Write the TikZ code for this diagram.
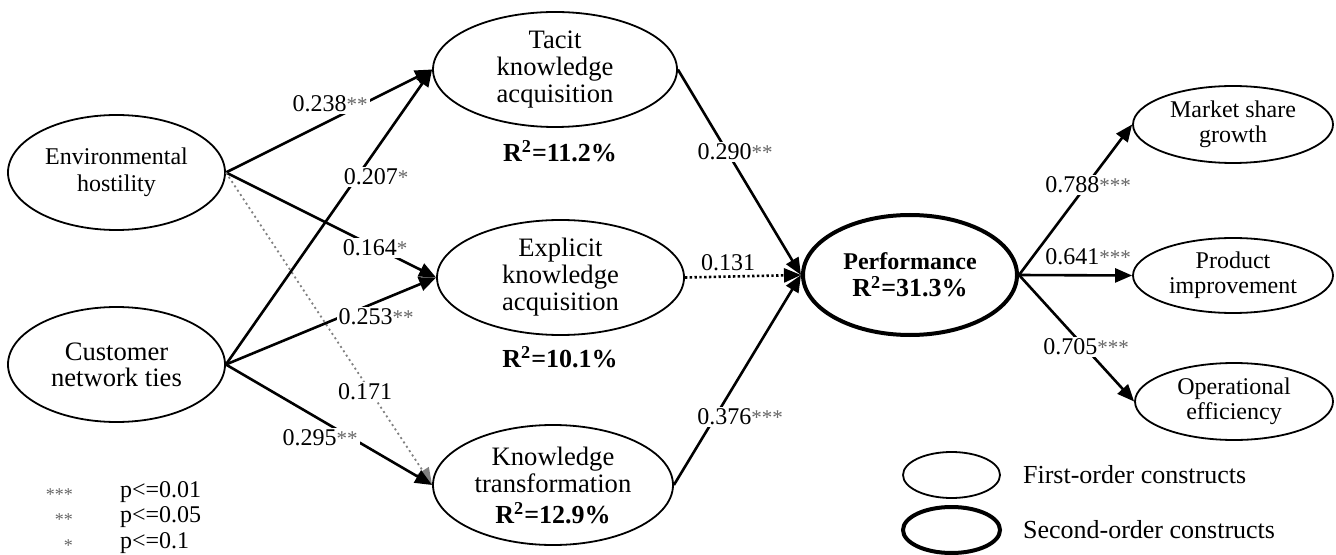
\documentclass[tikz,border=0pt]{standalone}
\usepackage{fontspec}
\setmainfont{Liberation Serif}
\usetikzlibrary{shapes.geometric,arrows.meta}

\definecolor{stargray}{gray}{0.4}
\newcommand{\sig}[1]{{\fontsize{10.5}{12}\selectfont\color{stargray}#1}}
\newcommand{\rsq}[1]{\textbf{R\textsuperscript{2}=#1\%}}

\tikzset{
  costrutto/.style={ellipse, draw, line width=0.9pt, inner sep=0pt, align=center},
  freccia/.style={line width=1.3pt, -{Triangle[length=8.5pt,width=7pt]}},
  coeff/.style={fill=white, inner sep=1pt, font=\fontsize{12}{14}\selectfont},
}

\begin{document}
\begin{tikzpicture}[x=0.5pt,y=-0.5pt]
    \useasboundingbox (0,0) rectangle (1336,555);

    % Costrutti esogeni
    \node[costrutto, minimum width=108.5pt, minimum height=57.5pt,
          font=\fontsize{12}{13.5}\selectfont] (EH) at (116.5,172.5)
        {Environmental\\hostility};
    \node[costrutto, minimum width=108.5pt, minimum height=57.5pt,
          font=\fontsize{13.3}{13}\selectfont] (CN) at (116.5,364.5)
        {Customer\\network ties};

    % Acquisizione e trasformazione della conoscenza
    \node[costrutto, minimum width=122pt, minimum height=57.5pt,
          font=\fontsize{13.3}{13.5}\selectfont] (TK) at (555,69.5)
        {Tacit\\knowledge\\acquisition};
    \node[costrutto, minimum width=123.5pt, minimum height=57.5pt,
          font=\fontsize{13.3}{13.5}\selectfont] (EK) at (560.5,277.5)
        {Explicit\\knowledge\\acquisition};
    \node[costrutto, minimum width=120pt, minimum height=60pt,
          font=\fontsize{13.3}{13.5}\selectfont] (KT) at (553,485)
        {Knowledge\\transformation\\[2pt]{\fontsize{13}{14}\selectfont\rsq{12.9}}};

    % R quadro
    \node[font=\fontsize{13}{15}\selectfont] (R1) at (560,151) {\rsq{11.2}};
    \node[font=\fontsize{13}{15}\selectfont] (R2) at (560,357) {\rsq{10.1}};

    % Performance (secondo ordine)
    \node[costrutto, line width=2pt, minimum width=107pt, minimum height=60pt,
          font=\fontsize{12}{13.5}\selectfont] (PF) at (910,275)
        {\textbf{Performance}\\{\fontsize{13}{14}\selectfont\rsq{31.3}}};

    % Dimensioni della performance
    \node[costrutto, minimum width=100pt, minimum height=38.5pt,
          font=\fontsize{12}{12.5}\selectfont] (MS) at (1233,124.5)
        {Market share\\growth};
    \node[costrutto, minimum width=100pt, minimum height=37.5pt,
          font=\fontsize{12}{12.5}\selectfont] (PI) at (1233,275.5)
        {Product\\improvement};
    \node[costrutto, minimum width=99pt, minimum height=38.5pt,
          font=\fontsize{12}{12.5}\selectfont] (OE) at (1234,401.5)
        {Operational\\efficiency};

    % Frecce
    \draw[freccia] (EH.east) -- (TK.west);
    \draw[freccia] (EH.east) -- (EK.west);
    \draw[freccia, gray, line width=0.9pt, dash pattern=on 1pt off 1.6pt]
        (EH.east) -- (KT.west);
    \draw[freccia] (CN.east) -- (TK.west);
    \draw[freccia] (CN.east) -- (EK.west);
    \draw[freccia] (CN.east) -- (KT.west);
    \draw[freccia] (TK.east) -- (PF.west);
    \draw[freccia, dash pattern=on 1.2pt off 1.2pt] (EK.east) -- (PF.west);
    \draw[freccia] (KT.east) -- (PF.west);
    \draw[freccia] (PF.east) -- (MS.west);
    \draw[freccia] (PF.east) -- (PI.west);
    \draw[freccia] (PF.east) -- (OE.west);

    % Coefficienti
    \node[coeff] (c1) at (330,104) {0.238\sig{**}};
    \node[coeff] (c2) at (376,177) {0.207\sig{*}};
    \node[coeff] (c3) at (375,248) {0.164\sig{*}};
    \node[coeff] (c4) at (376,317) {0.253\sig{**}};
    \node[coeff] (c5) at (365,392) {0.171};
    \node[coeff] (c6) at (320,438) {0.295\sig{**}};
    \node[coeff] (c7) at (735,152) {0.290\sig{**}};
    \node[coeff] (c8) at (728,263) {0.131};
    \node[coeff] (c9) at (740,417) {0.376\sig{***}};
    \node[coeff] (c10) at (1088,185) {0.788\sig{***}};
    \node[coeff] (c11) at (1088,257) {0.641\sig{***}};
    \node[coeff] (c12) at (1086,347) {0.705\sig{***}};

    % Legenda significativita
    \node[anchor=base east, font=\fontsize{9}{10}\selectfont, stargray] (s1) at (80,500) {***};
    \node[anchor=base east, font=\fontsize{9}{10}\selectfont, stargray] (s2) at (80,525) {**};
    \node[anchor=base east, font=\fontsize{9}{10}\selectfont, stargray] (s3) at (80,551) {*};
    \node[anchor=base west, font=\fontsize{12}{14}\selectfont] (p1) at (113,497) {p<=0.01};
    \node[anchor=base west, font=\fontsize{12}{14}\selectfont] (p2) at (113,522) {p<=0.05};
    \node[anchor=base west, font=\fontsize{12}{14}\selectfont] (p3) at (113,548) {p<=0.1};

    % Legenda costrutti
    \node[costrutto, minimum width=48.5pt, minimum height=23pt] (L1) at (951.5,475) {};
    \node[costrutto, line width=2pt, minimum width=48.5pt, minimum height=23pt] (L2) at (951.5,530) {};
    \node[anchor=west, font=\fontsize{13}{15}\selectfont] (T1) at (1016,475) {First-order constructs};
    \node[anchor=west, font=\fontsize{13}{15}\selectfont] (T2) at (1016,530) {Second-order constructs};
\end{tikzpicture}
\end{document}
